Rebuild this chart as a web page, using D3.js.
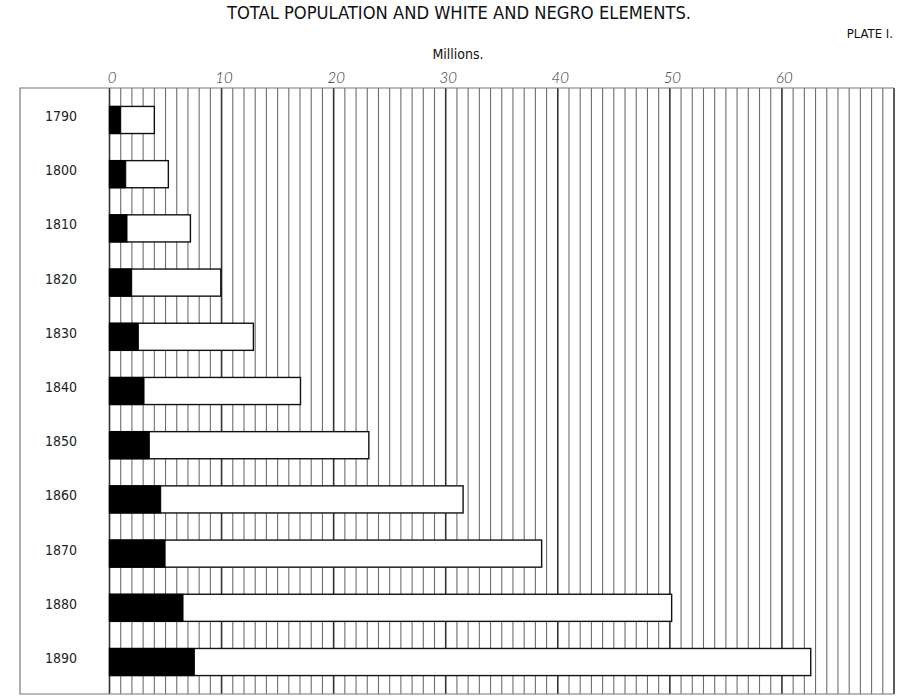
<!DOCTYPE html>
<html>
<head>
<meta charset="utf-8">
<script src="https://cdn.jsdelivr.net/npm/d3@7"></script>
<style>
  body { margin: 0; background: #fff; }
  svg { display: block; }
</style>
</head>
<body>
<div id="graph"></div>
<script>
// Data_____________________________________________
const years = ['1790', '1800', '1810', '1820', '1830', '1840', '1850', '1860', '1870', '1880', '1890'];
const totalPop = [4.0, 5.25, 7.22, 9.93, 12.84, 17.04, 23.14, 31.55, 38.56, 50.16, 62.57];
const negroPop = [1.0, 1.45, 1.56, 1.98, 2.57, 3.08, 3.55, 4.57, 4.96, 6.56, 7.57];
const tickLabels = [0, 10, 20, 30, 40, 50, 60];

// Sizes_____________________________________________
const width = 900;
const height = 700;
const boxLeft = 20;
const boxTop = 88;
const boxBottom = 694;
const x0 = 109.5;
const x1 = 894;

const svg = d3.select('#graph')
    .append('svg')
    .attr('width', width)
    .attr('height', height);

const xScale = d3.scaleLinear()
    .domain([0, 70])
    .range([x0, x1]);
const yScale = d3.scaleBand()
    .domain(years)
    .range([boxTop, boxBottom])
    .paddingInner(0.5)
    .paddingOuter(0.34);

// Titles____________________________________________
svg.append('text')
    .attr('x', 459)
    .attr('y', 19)
    .attr('text-anchor', 'middle')
    .style('font-family', '"DejaVu Sans Condensed", "DejaVu Sans", sans-serif')
    .style('font-stretch', 'condensed')
    .style('font-size', '18.2px')
    .style('fill', '#111')
    .text('TOTAL POPULATION AND WHITE AND NEGRO ELEMENTS.');

svg.append('text')
    .attr('x', 893)
    .attr('y', 38)
    .attr('text-anchor', 'end')
    .style('font-family', '"DejaVu Sans Condensed", "DejaVu Sans", sans-serif')
    .style('font-stretch', 'condensed')
    .style('font-size', '13px')
    .style('fill', '#111')
    .text('PLATE I.');

svg.append('text')
    .attr('x', 458)
    .attr('y', 59)
    .attr('text-anchor', 'middle')
    .style('font-family', '"DejaVu Sans Condensed", "DejaVu Sans", sans-serif')
    .style('font-stretch', 'condensed')
    .style('font-size', '14px')
    .style('fill', '#111')
    .text('Millions.');

// Top axis labels___________________________________
const xAxis = d3.axisTop(xScale)
    .tickValues(tickLabels)
    .tickSize(0)
    .tickPadding(0)
    .tickFormat(d3.format('d'));
const axisG = svg.append('g')
    .attr('transform', 'translate(2, 83)')
    .call(xAxis);
axisG.select('.domain').remove();
axisG.selectAll('text')
    .style('font-family', 'Lato, "DejaVu Sans", sans-serif')
    .style('font-weight', '300')
    .style('font-style', 'italic')
    .style('font-size', '15px')
    .style('fill', '#333');

// Grid______________________________________________
const gridVals = d3.range(0, 71);
svg.append('g')
    .attr('class', 'grid')
    .selectAll('line')
    .data(gridVals)
    .enter()
    .append('line')
    .attr('x1', d => xScale(d))
    .attr('x2', d => xScale(d))
    .attr('y1', boxTop)
    .attr('y2', boxBottom)
    .attr('stroke', d => d % 10 === 0 ? '#333' : '#6e6e6e')
    .attr('stroke-width', d => d % 10 === 0 ? 1.6 : 1.1);

// Outer box
svg.append('path')
    .attr('d', `M${x1},${boxTop}H${boxLeft}V${boxBottom}H${x1}`)
    .attr('fill', 'none')
    .attr('stroke', '#777')
    .attr('stroke-width', 1.2);

// Bars______________________________________________
const rows = years.map((y, i) => [y, totalPop[i], negroPop[i]]);

svg.append('g')
    .selectAll('rect')
    .data(rows)
    .enter()
    .append('rect')
    .attr('x', xScale(0))
    .attr('y', d => yScale(d[0]))
    .attr('width', d => xScale(d[1]) - xScale(0))
    .attr('height', yScale.bandwidth())
    .attr('fill', '#fff')
    .attr('stroke', '#111')
    .attr('stroke-width', 1.4);

svg.append('g')
    .selectAll('rect')
    .data(rows)
    .enter()
    .append('rect')
    .attr('x', xScale(0))
    .attr('y', d => yScale(d[0]))
    .attr('width', d => xScale(d[2]) - xScale(0))
    .attr('height', yScale.bandwidth())
    .attr('fill', '#000')
    .attr('stroke', '#000')
    .attr('stroke-width', 1);

// Year labels_______________________________________
svg.append('g')
    .selectAll('text')
    .data(years)
    .enter()
    .append('text')
    .attr('x', 61)
    .attr('y', d => yScale(d) + yScale.bandwidth() / 2 - 4)
    .attr('dy', '0.36em')
    .attr('text-anchor', 'middle')
    .style('font-family', '"DejaVu Sans Condensed", "DejaVu Sans", sans-serif')
    .style('font-size', '14px')
    .style('fill', '#222')
    .text(d => d);
</script>
</body>
</html>
